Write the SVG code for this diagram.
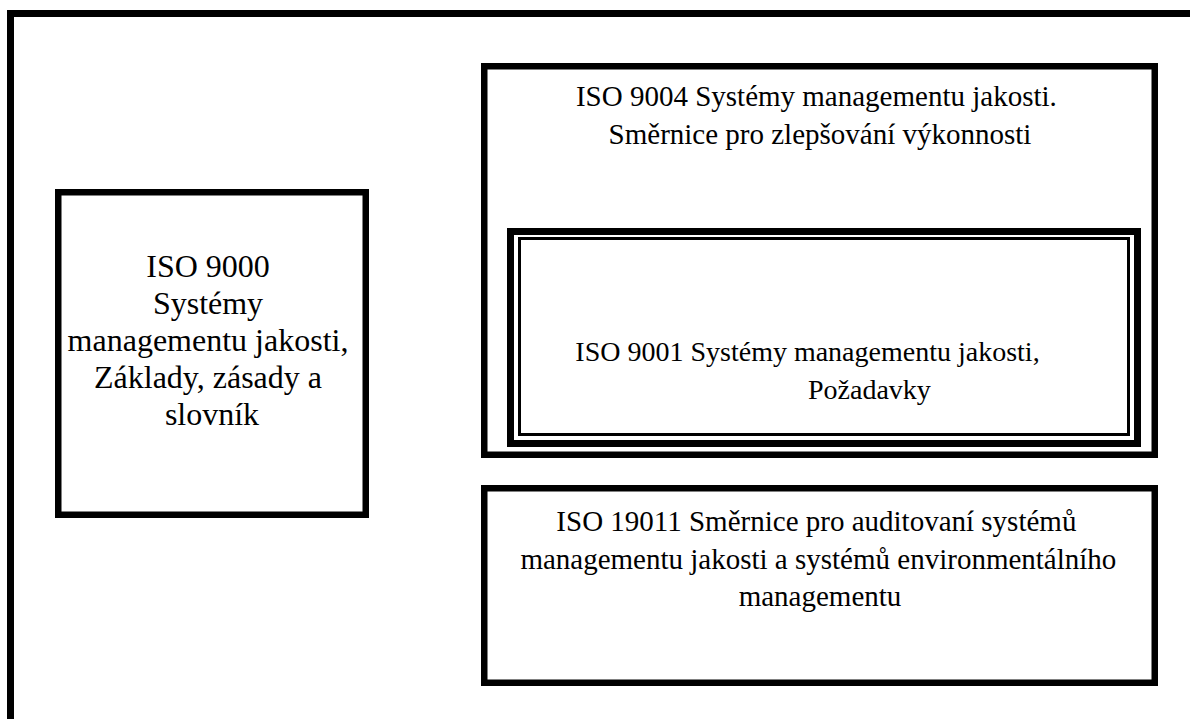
<svg xmlns="http://www.w3.org/2000/svg" width="1190" height="719" viewBox="0 0 1190 719">
  <style>
    .box { fill: #ffffff; stroke: #000000; stroke-width: 6.5; }
    .label { font-family: "Liberation Serif", "Times New Roman", serif; font-size: 29px; fill: #000000; text-anchor: middle; }
    .big { font-size: 32px; }
    .mid { font-size: 28px; }
  </style>
  <rect x="0" y="0" width="1190" height="719" fill="#ffffff"/>

  <!-- outer frame, open to the right and bottom edges -->
  <g id="frame">
    <rect x="10.5" y="13.5" width="1200" height="730" fill="none" stroke="#000000" stroke-width="7"/>
  </g>

  <g id="iso9000">
    <rect class="box" x="58.25" y="192.25" width="307.5" height="322.5"/>
    <text class="label big">
      <tspan x="212" y="277">ISO 9000</tspan>
      <tspan x="212" y="314">Systémy</tspan>
      <tspan x="212" y="351">managementu jakosti,</tspan>
      <tspan x="212" y="388">Základy, zásady a</tspan>
      <tspan x="212" y="425">slovník</tspan>
    </text>
  </g>

  <g id="iso9004">
    <rect class="box" x="484.25" y="66.25" width="670.5" height="388.5"/>
    <text class="label">
      <tspan x="820" y="106">ISO 9004 Systémy managementu jakosti.</tspan>
      <tspan x="820" y="144">Směrnice pro zlepšování výkonnosti</tspan>
    </text>
  </g>

  <g id="iso9001">
    <rect x="510.5" y="231.5" width="627" height="212" fill="#ffffff" stroke="#000000" stroke-width="7"/>
    <rect x="519.5" y="238.5" width="609" height="196" fill="none" stroke="#000000" stroke-width="3"/>
    <text class="label mid">
      <tspan x="811" y="361">ISO 9001 Systémy managementu jakosti,</tspan>
      <tspan x="808" y="399" text-anchor="start">Požadavky</tspan>
    </text>
  </g>

  <g id="iso19011">
    <rect class="box" x="484.25" y="488.25" width="670.5" height="194.5"/>
    <text class="label">
      <tspan x="820" y="531">ISO 19011 Směrnice pro auditovaní systémů</tspan>
      <tspan x="822" y="569">managementu jakosti a systémů environmentálního</tspan>
      <tspan x="820" y="606">managementu</tspan>
    </text>
  </g>

  <g id="connectors"></g>
</svg>
